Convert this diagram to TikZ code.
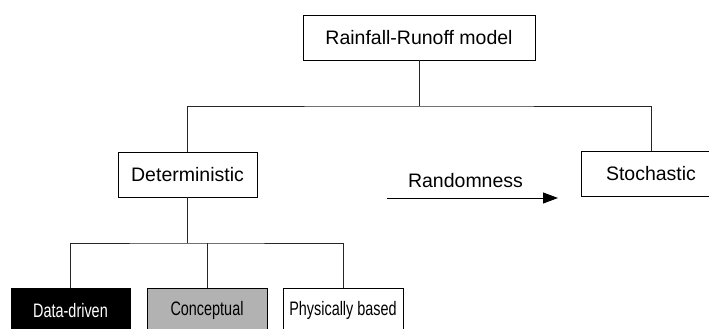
\documentclass[tikz,border=0pt]{standalone}
\usepackage{fontspec}
\setmainfont{Liberation Sans}
\usetikzlibrary{arrows.meta}
\begin{document}
\begin{tikzpicture}[x=1pt,y=-1pt,
  box/.style={draw=black, line width=0.9pt, minimum height=45pt, inner sep=0pt,
    font=\fontsize{19.5}{23}\selectfont},
  link/.style={draw=black!85, line width=0.9pt},
  narrow/.style={font=\fontsize{19.5}{23}\selectfont}]
\clip (0,0) rectangle (709,329);
\useasboundingbox (0,0) rectangle (709,329);
\fill[white] (0,0) rectangle (709,329);
% nodes
\node[box, minimum width=232pt] (top) at (419,37.5) {Rainfall-Runoff model};
\node[box, minimum width=139pt] (det) at (187.5,174.5) {Deterministic};
\node[box, minimum width=140pt] (sto) at (651,174) {Stochastic};
\node[box, minimum width=119pt, fill=black, text=white] (dd) at (70.5,310.5) {\scalebox{0.74}[1]{Data-driven}};
\node[box, minimum width=120pt, fill=black!30] (con) at (207,310.5) {\scalebox{0.74}[1]{Conceptual}};
\node[box, minimum width=120pt] (phy) at (343,310.5) {\scalebox{0.74}[1]{Physically based}};
% junctions
\coordinate (j1) at (419,106);
\coordinate (j2) at (187.5,243);
% connectors
\draw[link] (top.south) -- (j1);
\draw[link] (det.north) |- (j1) -| (sto.north);
\draw[link] (det.south) -- (j2);
\draw[link] (dd.north) |- (j2) -| (phy.north);
\draw[link] (con.north) -- (con.north |- j2);
% randomness arrow
\coordinate (a1) at (387,198);
\coordinate (a2) at (558,198);
\draw[line width=0.9pt, -{Triangle[length=15pt,width=11pt]}] (a1) -- (a2);
\node[font=\fontsize{19.5}{23}\selectfont, inner sep=0pt] (rnd) at (465.5,181) {Randomness};
\end{tikzpicture}
\end{document}
